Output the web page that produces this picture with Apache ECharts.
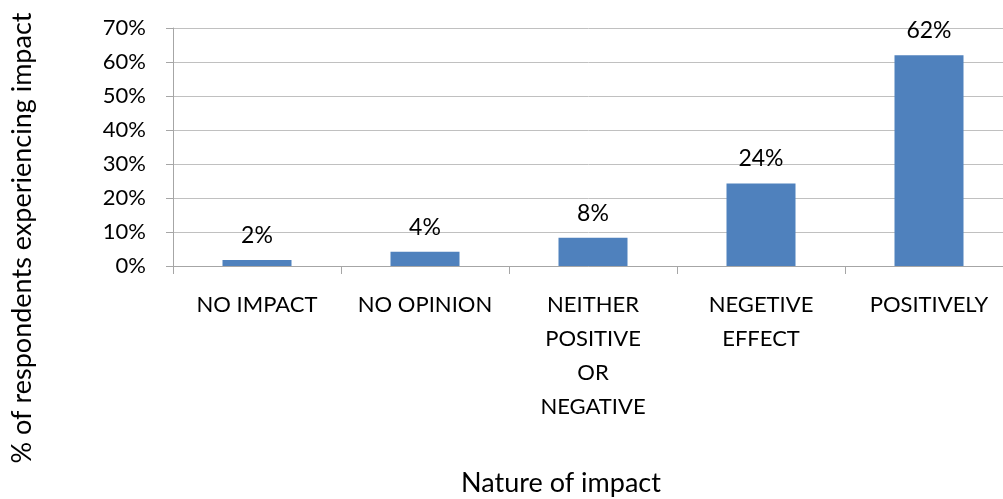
<!DOCTYPE html>
<html>
<head>
<meta charset="utf-8">
<script src="https://cdn.jsdelivr.net/npm/echarts@6/dist/echarts.min.js"></script>
<style>
  html, body { margin: 0; padding: 0; background: #fff; }
  #chart { width: 1003px; height: 499px; }
</style>
</head>
<body>
<div id="chart"></div>
<script>
  // categories and values
  var categories = ['NO IMPACT', 'NO OPINION', 'NEITHER\nPOSITIVE\nOR\nNEGATIVE', 'NEGETIVE\nEFFECT', 'POSITIVELY']
  var shares = [1.8, 4.2, 8.3, 24.3, 62.0]
  var yTicks = [0, 10, 20, 30, 40, 50, 60, 70]

  var font = 'Lato, "Open Sans", sans-serif'
  var chart = echarts.init(document.getElementById('chart'))

  var option = {
    animation: false,
    grid: {
      left: 173,
      width: 840,
      top: 28,
      bottom: 233,
      outerBoundsMode: 'none'
    },
    xAxis: {
      type: 'category',
      data: categories,
      axisLine: { show: true, lineStyle: { color: '#a6a6a6', width: 1 } },
      axisTick: { show: true, length: 8, lineStyle: { color: '#a6a6a6' } },
      axisLabel: {
        color: '#000',
        fontFamily: font,
        fontSize: 22,
        lineHeight: 34,
        margin: 22,
        interval: 0
      }
    },
    yAxis: {
      type: 'value',
      min: yTicks[0],
      max: yTicks[yTicks.length - 1],
      interval: 10,
      axisLine: { show: true, lineStyle: { color: '#a6a6a6', width: 1 } },
      axisTick: { show: true, length: 7, lineStyle: { color: '#a6a6a6' } },
      splitLine: { show: true, lineStyle: { color: '#c0c0c0', width: 1 } },
      axisLabel: {
        color: '#000',
        fontFamily: font,
        fontSize: 22,
        margin: 27,
        formatter: '{value}%'
      }
    },
    series: [
      {
        type: 'bar',
        data: shares,
        barWidth: 69,
        itemStyle: { color: '#4f81bd' },
        label: {
          show: true,
          position: 'top',
          distance: 13,
          color: '#000',
          fontFamily: font,
          fontSize: 23,
          formatter: function (p) {
            return Math.round(p.value) + '%'
          }
        }
      }
    ],
    graphic: [
      {
        type: 'text',
        x: 22,
        y: 238,
        rotation: Math.PI / 2,
        style: {
          text: '% of respondents experiencing impact',
          fontFamily: font,
          fontSize: 27,
          fill: '#000',
          align: 'center',
          verticalAlign: 'middle'
        }
      },
      {
        type: 'text',
        x: 561,
        y: 483,
        style: {
          text: 'Nature of impact',
          fontFamily: font,
          fontSize: 27,
          fill: '#000',
          align: 'center',
          verticalAlign: 'middle'
        }
      }
    ]
  }

  chart.setOption(option)
</script>
</body>
</html>
